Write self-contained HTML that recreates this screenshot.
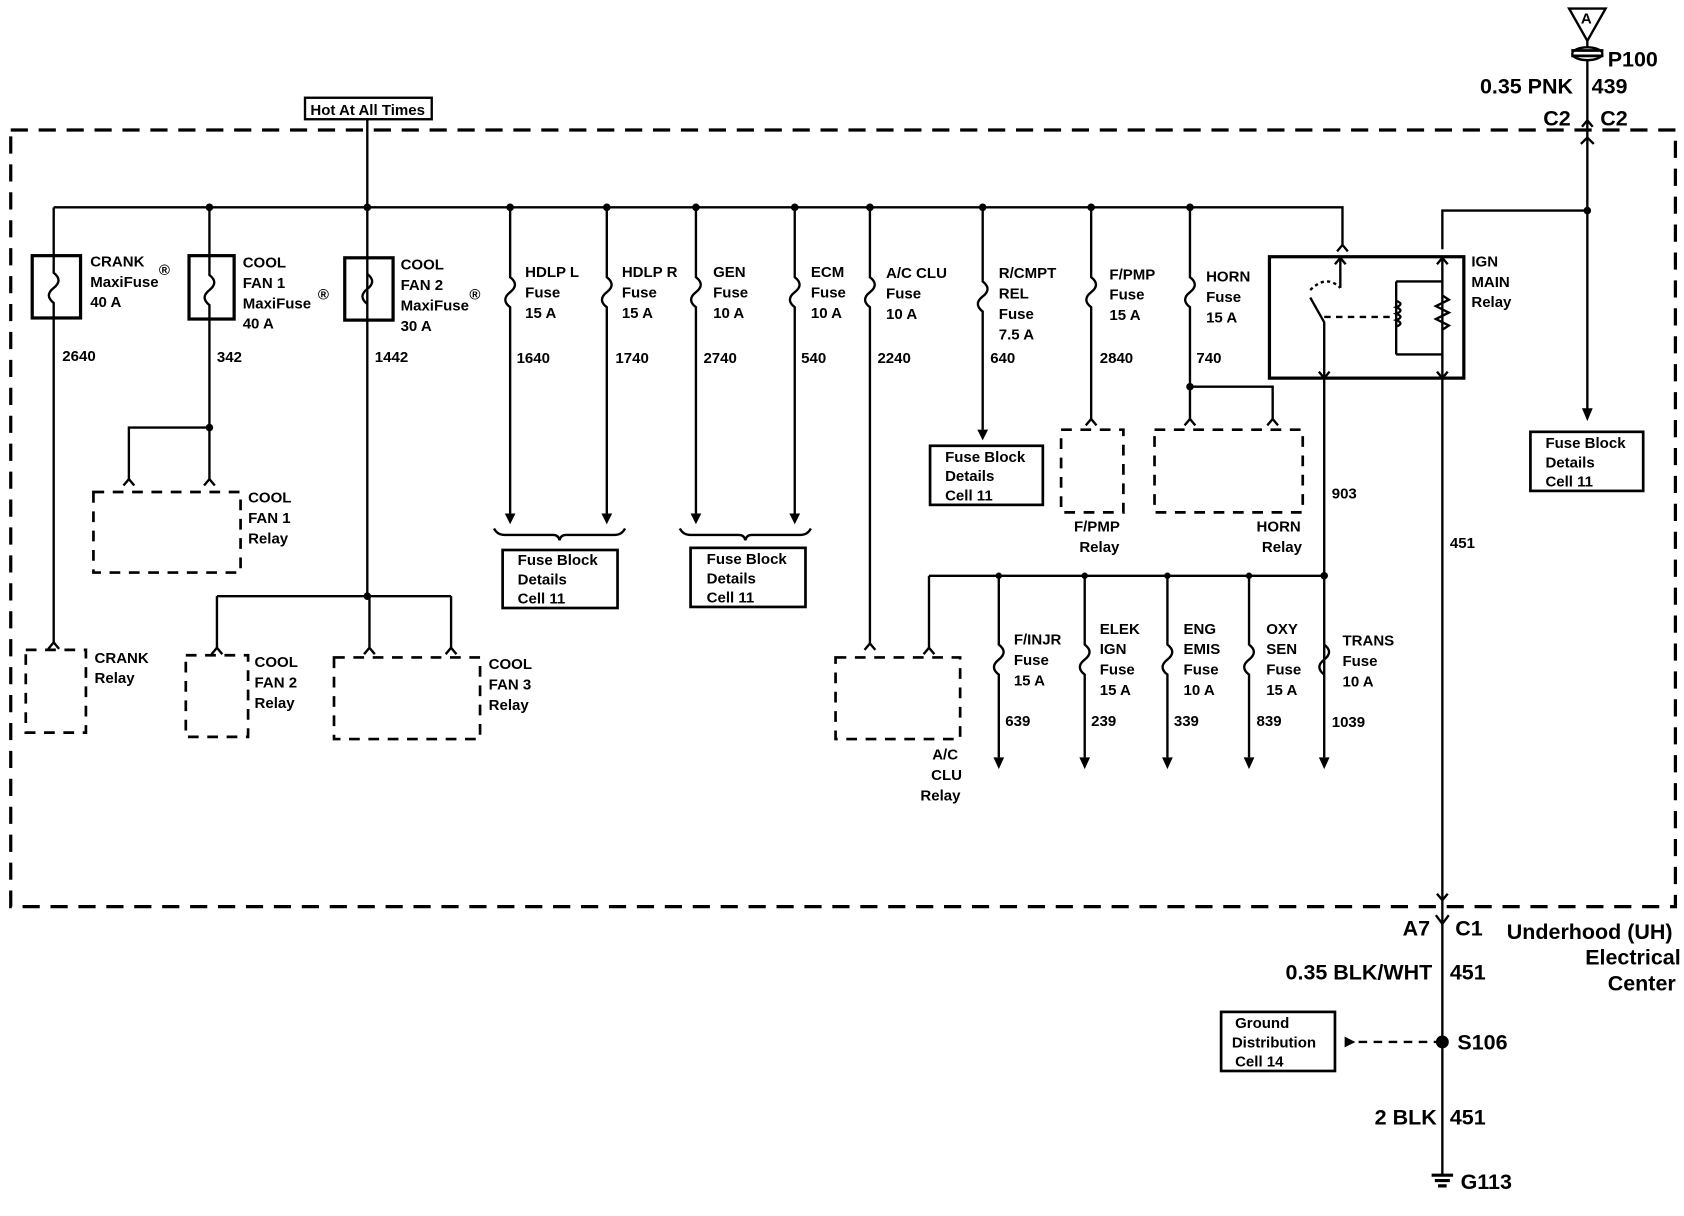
<!DOCTYPE html>
<html><head><meta charset="utf-8"><style>
html,body{margin:0;padding:0;background:#fff}
svg{display:block}
text{font-family:"Liberation Sans",sans-serif;font-weight:bold;fill:#000}
.s{font-size:14px}
.b{font-size:20px}
</style></head><body>
<svg width="1684" height="1216" viewBox="0 0 1568 1132" preserveAspectRatio="none" xmlns="http://www.w3.org/2000/svg">
<g fill="none" stroke="#000" stroke-width="2.2">
<rect x="10" y="121" width="1550" height="723" stroke-width="3" stroke-dasharray="16,10"/>
<path d="M1461,8 L1495,8 L1478,38 Z"/>
<path d="M1478,38 L1478,385"/>
<ellipse cx="1478" cy="50" rx="14" ry="6" fill="#fff"/>
<path d="M1463,47 L1493,47 M1463,52 L1493,52" stroke-width="2.5"/>
<path d="M1473,118 L1478,112 L1483,118"/>
<path d="M1472,134 L1478,128 L1484,134"/>
<rect x="284" y="91" width="118" height="20"/>
<path d="M342,111 L342,555"/>
<path d="M50,193 L1250,193 L1250,228"/>
<path d="M1245,234 L1250,228 L1255,234"/>
<path d="M1478,196 L1343,196 L1343,232"/>
<rect x="30" y="238" width="45" height="58" stroke-width="3"/>
<path d="M50,193 L50,254 q9,7 0,14 q-9,7 0,14 L50,598"/>
<path d="M45,604 L50,598 L55,604"/>
<rect x="24" y="605" width="56" height="77" stroke-dasharray="10,8" stroke-width="2.5"/>
<rect x="176" y="238" width="42" height="59" stroke-width="3"/>
<path d="M195,193 L195,256 q9,7 0,14 q-9,7 0,14 L195,446 M195,398 L120,398 L120,446"/>
<path d="M190,452 L195,446 L200,452 M115,452 L120,446 L125,452"/>
<rect x="87" y="458" width="137" height="75" stroke-dasharray="10,8" stroke-width="2.5"/>
<rect x="321" y="240" width="45" height="58" stroke-width="3"/>
<path d="M342,255 q9,7 0,14 q-9,7 0,14"/>
<path d="M202,555 L420,555 M202,555 L202,603 M344,555 L344,603 M420,555 L420,603"/>
<path d="M197,609 L202,603 L207,609 M339,609 L344,603 L349,609 M415,609 L420,603 L425,609"/>
<rect x="173" y="610" width="58" height="76" stroke-dasharray="10,8" stroke-width="2.5"/>
<rect x="311" y="612" width="136" height="76" stroke-dasharray="10,8" stroke-width="2.5"/>
<path d="M475,193 L475,258 q9,7 0,14 q-9,7 0,14 L475,478"/>
<path d="M565,193 L565,258 q9,7 0,14 q-9,7 0,14 L565,478"/>
<path d="M648,193 L648,258 q9,7 0,14 q-9,7 0,14 L648,478"/>
<path d="M740,193 L740,258 q9,7 0,14 q-9,7 0,14 L740,478"/>
<path d="M810,193 L810,258 q9,7 0,14 q-9,7 0,14 L810,599"/>
<path d="M805,605 L810,599 L815,605"/>
<path d="M915,193 L915,262 q9,7 0,14 q-9,7 0,14 L915,400"/>
<path d="M1016,193 L1016,258 q9,7 0,14 q-9,7 0,14 L1016,390"/>
<path d="M1011,396 L1016,390 L1021,396"/>
<path d="M1108,193 L1108,258 q9,7 0,14 q-9,7 0,14 L1108,390 M1108,360 L1185,360 L1185,390"/>
<path d="M1103,396 L1108,390 L1113,396 M1180,396 L1185,390 L1190,396"/>
<path d="M460,492 q3,6 10,6 L515,498 q5,0 6,5 q1,-5 6,-5 L572,498 q7,0 10,-6"/>
<path d="M633,492 q3,6 10,6 L688,498 q5,0 6,5 q1,-5 6,-5 L745,498 q7,0 10,-6"/>
<rect x="468" y="512" width="107" height="54" stroke-width="2.5"/>
<rect x="643" y="510" width="107" height="55" stroke-width="2.5"/>
<rect x="866" y="415" width="105" height="55" stroke-width="2.5"/>
<rect x="988" y="400" width="58" height="77" stroke-dasharray="10,8" stroke-width="2.5"/>
<rect x="1075" y="400" width="138" height="77" stroke-dasharray="10,8" stroke-width="2.5"/>
<rect x="1182" y="239" width="181" height="113" stroke-width="3"/>
<path d="M1248,240 L1248,268 M1233,352 L1233,300 L1220,277"/>
<path d="M1243,246 L1248,240 L1253,246 M1228,346 L1233,352 L1238,346"/>
<path d="M1220,270 q15,-15 28,-2" stroke-dasharray="3,3"/>
<path d="M1233,295 L1300,295" stroke-dasharray="6,5"/>
<path d="M1343,240 L1343,352 M1300,262 L1343,262 M1300,330 L1343,330 M1300,262 L1300,330"/>
<path d="M1300,280 q8,3 0,6 q8,3 0,6 q8,3 0,6 q8,3 0,6"/>
<path d="M1343,275 l6,4 l-12,6 l12,6 l-12,6 l12,6 l-6,4"/>
<path d="M1338,246 L1343,240 L1348,246 M1338,346 L1343,352 L1348,346"/>
<path d="M1233,352 L1233,705 M865,536 L1233,536 M865,536 L865,603"/>
<path d="M860,609 L865,603 L870,609"/>
<rect x="778" y="612" width="116" height="76" stroke-dasharray="10,8" stroke-width="2.5"/>
<path d="M930,536 L930,600 q9,7 0,14 q-9,7 0,14 L930,705"/>
<path d="M1010,536 L1010,600 q9,7 0,14 q-9,7 0,14 L1010,705"/>
<path d="M1087,536 L1087,600 q9,7 0,14 q-9,7 0,14 L1087,705"/>
<path d="M1163,536 L1163,600 q9,7 0,14 q-9,7 0,14 L1163,705"/>
<path d="M1233,600 q9,7 0,14 q-9,7 0,14"/>
<path d="M1343,352 L1343,1094"/>
<path d="M1338,832 L1343,838 L1348,832"/>
<path d="M1337,852 L1343,860 L1349,852"/>
<rect x="1425" y="402" width="105" height="55" stroke-width="2.5"/>
<path d="M1343,970 L1262,970" stroke-dasharray="8,6"/>
<rect x="1137" y="942" width="106" height="55" stroke-width="2.5"/>
<path d="M1333,1094 L1353,1094 M1336,1099 L1350,1099 M1339,1104 L1347,1104" stroke-width="3"/>
</g>
<g fill="#000">
<polygon points="470,478 480,478 475,488"/><polygon points="560,478 570,478 565,488"/>
<polygon points="643,478 653,478 648,488"/><polygon points="735,478 745,478 740,488"/>
<polygon points="910,400 920,400 915,410"/>
<polygon points="1473,380 1483,380 1478,392"/>
<polygon points="925,705 935,705 930,716"/><polygon points="1005,705 1015,705 1010,716"/>
<polygon points="1082,705 1092,705 1087,716"/><polygon points="1158,705 1168,705 1163,716"/>
<polygon points="1228,705 1238,705 1233,716"/>
<polygon points="1252,965 1252,975 1262,970"/>
<circle cx="195" cy="193" r="3.5"/><circle cx="342" cy="193" r="3.5"/><circle cx="475" cy="193" r="3.5"/>
<circle cx="565" cy="193" r="3.5"/><circle cx="648" cy="193" r="3.5"/><circle cx="740" cy="193" r="3.5"/>
<circle cx="810" cy="193" r="3.5"/><circle cx="915" cy="193" r="3.5"/><circle cx="1016" cy="193" r="3.5"/>
<circle cx="1108" cy="193" r="3.5"/><circle cx="1478" cy="196" r="3.5"/><circle cx="195" cy="398" r="3.5"/>
<circle cx="342" cy="555" r="3.5"/><circle cx="1108" cy="360" r="3.5"/><circle cx="1233" cy="536" r="3.5"/>
<circle cx="930" cy="536" r="3"/><circle cx="1010" cy="536" r="3"/><circle cx="1087" cy="536" r="3"/><circle cx="1163" cy="536" r="3"/>
<circle cx="1343" cy="970" r="6"/>
</g>
<text class="s" x="1472" y="22">A</text>
<text class="b" x="1497" y="62">P100</text>
<text class="b" x="1378" y="87">0.35 PNK</text><text class="b" x="1482" y="87">439</text>
<text class="b" x="1437" y="117">C2</text><text class="b" x="1490" y="117">C2</text>
<text class="s" x="289" y="107">Hot At All Times</text>
<text class="s"><tspan x="84" y="248">CRANK</tspan><tspan x="84" y="267">MaxiFuse</tspan><tspan x="84" y="286">40 A</tspan></text>
<text class="s" x="148" y="256">®</text>
<text class="s"><tspan x="226" y="249">COOL</tspan><tspan x="226" y="268">FAN 1</tspan><tspan x="226" y="287">MaxiFuse</tspan><tspan x="226" y="306">40 A</tspan></text>
<text class="s" x="296" y="279">®</text>
<text class="s"><tspan x="373" y="251">COOL</tspan><tspan x="373" y="270">FAN 2</tspan><tspan x="373" y="289">MaxiFuse</tspan><tspan x="373" y="308">30 A</tspan></text>
<text class="s" x="437" y="279">®</text>
<text class="s" x="58" y="336">2640</text><text class="s" x="202" y="337">342</text><text class="s" x="349" y="337">1442</text>
<text class="s"><tspan x="489" y="258">HDLP L</tspan><tspan x="489" y="277">Fuse</tspan><tspan x="489" y="296">15 A</tspan></text>
<text class="s"><tspan x="579" y="258">HDLP R</tspan><tspan x="579" y="277">Fuse</tspan><tspan x="579" y="296">15 A</tspan></text>
<text class="s"><tspan x="664" y="258">GEN</tspan><tspan x="664" y="277">Fuse</tspan><tspan x="664" y="296">10 A</tspan></text>
<text class="s"><tspan x="755" y="258">ECM</tspan><tspan x="755" y="277">Fuse</tspan><tspan x="755" y="296">10 A</tspan></text>
<text class="s"><tspan x="825" y="259">A/C CLU</tspan><tspan x="825" y="278">Fuse</tspan><tspan x="825" y="297">10 A</tspan></text>
<text class="s"><tspan x="930" y="259">R/CMPT</tspan><tspan x="930" y="278">REL</tspan><tspan x="930" y="297">Fuse</tspan><tspan x="930" y="316">7.5 A</tspan></text>
<text class="s"><tspan x="1033" y="260">F/PMP</tspan><tspan x="1033" y="279">Fuse</tspan><tspan x="1033" y="298">15 A</tspan></text>
<text class="s"><tspan x="1123" y="262">HORN</tspan><tspan x="1123" y="281">Fuse</tspan><tspan x="1123" y="300">15 A</tspan></text>
<text class="s"><tspan x="1370" y="248">IGN</tspan><tspan x="1370" y="267">MAIN</tspan><tspan x="1370" y="286">Relay</tspan></text>
<text class="s" x="481" y="338">1640</text><text class="s" x="573" y="338">1740</text><text class="s" x="655" y="338">2740</text>
<text class="s" x="746" y="338">540</text><text class="s" x="817" y="338">2240</text><text class="s" x="922" y="338">640</text>
<text class="s" x="1024" y="338">2840</text><text class="s" x="1114" y="338">740</text>
<text class="s" x="1240" y="464">903</text><text class="s" x="1350" y="510">451</text>
<text class="s"><tspan x="231" y="468">COOL</tspan><tspan x="231" y="487">FAN 1</tspan><tspan x="231" y="506">Relay</tspan></text>
<text class="s"><tspan x="88" y="617">CRANK</tspan><tspan x="88" y="636">Relay</tspan></text>
<text class="s"><tspan x="237" y="621">COOL</tspan><tspan x="237" y="640">FAN 2</tspan><tspan x="237" y="659">Relay</tspan></text>
<text class="s"><tspan x="455" y="623">COOL</tspan><tspan x="455" y="642">FAN 3</tspan><tspan x="455" y="661">Relay</tspan></text>
<text class="s"><tspan x="482" y="526">Fuse Block</tspan><tspan x="482" y="544">Details</tspan><tspan x="482" y="562">Cell 11</tspan></text>
<text class="s"><tspan x="658" y="525">Fuse Block</tspan><tspan x="658" y="543">Details</tspan><tspan x="658" y="561">Cell 11</tspan></text>
<text class="s"><tspan x="880" y="430">Fuse Block</tspan><tspan x="880" y="448">Details</tspan><tspan x="880" y="466">Cell 11</tspan></text>
<text class="s"><tspan x="1439" y="417">Fuse Block</tspan><tspan x="1439" y="435">Details</tspan><tspan x="1439" y="453">Cell 11</tspan></text>
<text class="s"><tspan x="1000" y="495">F/PMP</tspan><tspan x="1005" y="514">Relay</tspan></text>
<text class="s"><tspan x="1170" y="495">HORN</tspan><tspan x="1175" y="514">Relay</tspan></text>
<text class="s"><tspan x="868" y="707">A/C</tspan><tspan x="867" y="726">CLU</tspan><tspan x="857" y="745">Relay</tspan></text>
<text class="s"><tspan x="944" y="600">F/INJR</tspan><tspan x="944" y="619">Fuse</tspan><tspan x="944" y="638">15 A</tspan></text>
<text class="s"><tspan x="1024" y="590">ELEK</tspan><tspan x="1024" y="609">IGN</tspan><tspan x="1024" y="628">Fuse</tspan><tspan x="1024" y="647">15 A</tspan></text>
<text class="s"><tspan x="1102" y="590">ENG</tspan><tspan x="1102" y="609">EMIS</tspan><tspan x="1102" y="628">Fuse</tspan><tspan x="1102" y="647">10 A</tspan></text>
<text class="s"><tspan x="1179" y="590">OXY</tspan><tspan x="1179" y="609">SEN</tspan><tspan x="1179" y="628">Fuse</tspan><tspan x="1179" y="647">15 A</tspan></text>
<text class="s"><tspan x="1250" y="601">TRANS</tspan><tspan x="1250" y="620">Fuse</tspan><tspan x="1250" y="639">10 A</tspan></text>
<text class="s" x="936" y="676">639</text><text class="s" x="1016" y="676">239</text><text class="s" x="1093" y="676">339</text>
<text class="s" x="1170" y="676">839</text><text class="s" x="1240" y="677">1039</text>
<text class="b" x="1306" y="871">A7</text><text class="b" x="1355" y="871">C1</text>
<text class="b" x="1403" y="874">Underhood (UH)</text>
<text class="b" x="1476" y="898">Electrical</text>
<text class="b" x="1497" y="922">Center</text>
<text class="b" x="1197" y="912">0.35 BLK/WHT</text><text class="b" x="1350" y="912">451</text>
<text class="s"><tspan x="1150" y="957">Ground</tspan><tspan x="1147" y="975">Distribution</tspan><tspan x="1150" y="993">Cell 14</tspan></text>
<text class="b" x="1357" y="977">S106</text>
<text class="b" x="1280" y="1047">2 BLK</text><text class="b" x="1350" y="1047">451</text>
<text class="b" x="1360" y="1107">G113</text>
</svg>
</body></html>
